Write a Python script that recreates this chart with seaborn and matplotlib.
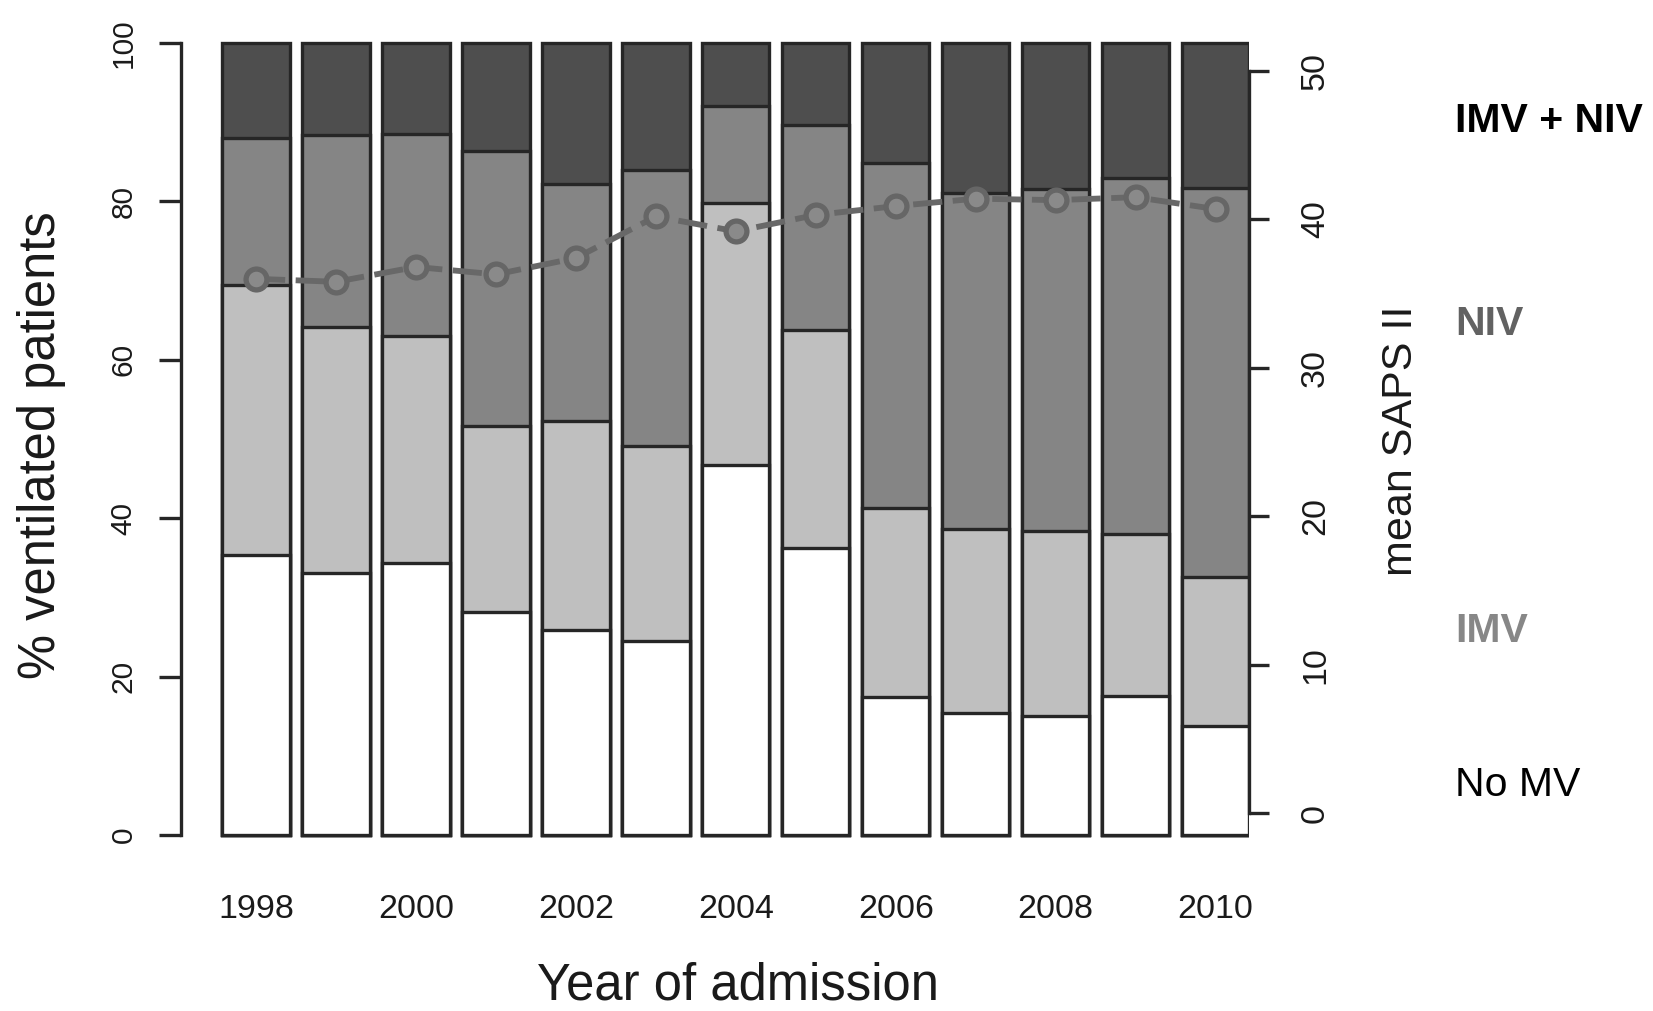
import numpy as np
import seaborn as sns
from matplotlib import pyplot as plt
from matplotlib import font_manager

''' Data read from the figure '''
years = ["1998", "1999", "2000", "2001", "2002", "2003", "2004",
         "2005", "2006", "2007", "2008", "2009", "2010"]
no_mv = [35.3, 33.1, 34.4, 28.2, 25.9, 24.5, 46.7, 36.3, 17.4, 15.4, 15.0, 17.6, 13.8]
imv = [34.1, 31.1, 28.6, 23.5, 26.4, 24.6, 33.1, 27.5, 23.9, 23.3, 23.4, 20.4, 18.8]
niv = [18.6, 24.2, 25.5, 34.6, 29.9, 34.9, 12.2, 25.9, 43.5, 42.4, 43.2, 44.9, 49.1]
imv_niv = [12.0, 11.6, 11.5, 13.7, 17.8, 16.0, 8.0, 10.3, 15.2, 18.9, 18.4, 17.1, 18.3]
saps = [36.0, 35.8, 36.8, 36.3, 37.4, 40.2, 39.2, 40.3, 40.9, 41.4, 41.3, 41.5, 40.7]

group_names = ["IMV + NIV", "NIV", "IMV", "No MV"]
group_colors = ["#4e4e4e", "#858585", "#bfbfbf", "#ffffff"]
text_colors = ["#000000", "#626262", "#878787", "#000000"]
text_weights = ["bold", "bold", "bold", "normal"]

sns.set_style("white")
plt.rcParams['font.family'] = ['Liberation Sans', 'DejaVu Sans']

# narrow face for the right axis numbers, if it is installed
installed = {f.name for f in font_manager.fontManager.ttflist}
narrow = "Liberation Sans Narrow" if "Liberation Sans Narrow" in installed else "Liberation Sans"
right_size = 28 if narrow == "Liberation Sans Narrow" else 24.5

edge = "#262626"
fig = plt.figure(figsize=(16.53, 10.11), dpi=100)
ax = fig.add_axes([0.10965, 0.14273, 0.64613, 0.84609])

''' Stacked bars: draw cumulative heights from the top layer down '''
layers = [no_mv, imv, niv, imv_niv]
cum = np.cumsum(np.array(layers), axis=0)
for k in range(3, -1, -1):
    sns.barplot(x=years, y=cum[k], color=group_colors[::-1][k], saturation=1,
                edgecolor=edge, linewidth=2.4, width=0.842, ax=ax)

ax.set_xlim(-0.935, 12.421)
ax.set_ylim(-4, 104)
ax.set_yticks([0, 20, 40, 60, 80, 100])
ax.set_yticklabels(["0", "20", "40", "60", "80", "100"], rotation=90, va="center")
ax.set_xticks(range(0, 13, 2))
ax.set_xticklabels(years[::2])
ax.tick_params(axis="y", direction="out", length=15.5, width=2.4, color=edge,
               labelsize=21.5, pad=16, labelcolor="#1a1a1a")
ax.tick_params(axis="x", length=0, labelsize=24.5, pad=20, labelcolor="#1a1a1a")
ax.set_xlabel("")
ax.set_ylabel("")
for s in ["top", "right", "bottom"]:
    ax.spines[s].set_visible(False)
ax.spines["left"].set_bounds(0, 100)
ax.spines["left"].set_linewidth(2.4)
ax.spines["left"].set_color(edge)

''' Mean SAPS II on a second axis '''
ax2 = ax.twinx()
sns.lineplot(x=np.arange(len(years)), y=saps, ax=ax2, color="#686868", lw=4.2,
             marker="o", markersize=15, markerfacecolor="#8a8a8a",
             markeredgecolor="#666666", markeredgewidth=3.8)
ax2.lines[0].set_dashes([5, 1.8])
ax2.set_ylim(-3.597, 54.02)
ax2.set_xlim(-0.935, 12.421)
ax2.set_yticks([0, 10, 20, 30, 40, 50])
ax2.set_yticklabels(["0", "10", "20", "30", "40", "50"], rotation=90, va="center",
                    family=narrow)
ax2.tick_params(axis="y", direction="out", length=14.5, width=2.4, color=edge,
                labelsize=right_size, pad=22, labelcolor="#1a1a1a", right=True, left=False)
ax2.set_ylabel("")
for s in ["top", "left", "bottom"]:
    ax2.spines[s].set_visible(False)
ax2.spines["right"].set_bounds(0, 50)
ax2.spines["right"].set_linewidth(2.4)
ax2.spines["right"].set_color(edge)

''' Axis titles '''
W, H = 1653, 1011
fig.text(738 / W, 1 - 1000 / H, "Year of admission", ha="center", va="baseline",
         fontsize=36.5, color="#1a1a1a")
fig.text(41.5 / W, 1 - 445 / H, "% ventilated patients", rotation=90,
         ha="center", va="center", fontsize=36.5, color="#1a1a1a")
fig.text(1401 / W, 1 - 441 / H, "mean SAPS II", rotation=90,
         ha="center", va="center", fontsize=31, color="#1a1a1a")

''' Group labels on the right '''
label_base = [131.7, 335, 641.7, 796]
for name, yb, c, w in zip(group_names, label_base, text_colors, text_weights):
    fig.text(1455 / W, 1 - yb / H, name, ha="left", va="baseline",
             fontsize=29.5, color=c, fontweight=w)

fig.savefig("out.png", dpi=100)
